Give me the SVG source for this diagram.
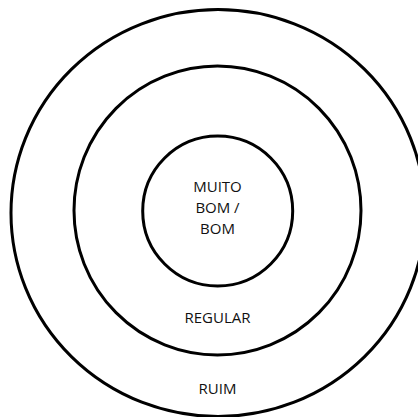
<svg xmlns="http://www.w3.org/2000/svg" width="418" height="417" viewBox="0 0 418 417">
<style>
.ring{fill:none;stroke:#000;stroke-width:3}
.lbl{font-family:"Open Sans","Liberation Sans",sans-serif;font-size:15px;fill:#111;text-anchor:middle}
</style>
<rect width="418" height="417" fill="#fff"/>
<g id="ruim">
<ellipse class="ring" cx="218" cy="213" rx="207" ry="203.5"/>
<text class="lbl" x="217.5" y="394.3">RUIM</text>
</g>
<g id="regular">
<ellipse class="ring" cx="217.5" cy="210.5" rx="143.5" ry="144.5"/>
<text class="lbl" x="217.5" y="323.3">REGULAR</text>
</g>
<g id="muito-bom">
<circle class="ring" cx="217.7" cy="211" r="75"/>
<text class="lbl" x="217.5" y="191.7">MUITO</text>
<text class="lbl" x="217.5" y="213.2">BOM /</text>
<text class="lbl" x="217.5" y="234.3">BOM</text>
</g>
<g id="connectors"/>
</svg>
